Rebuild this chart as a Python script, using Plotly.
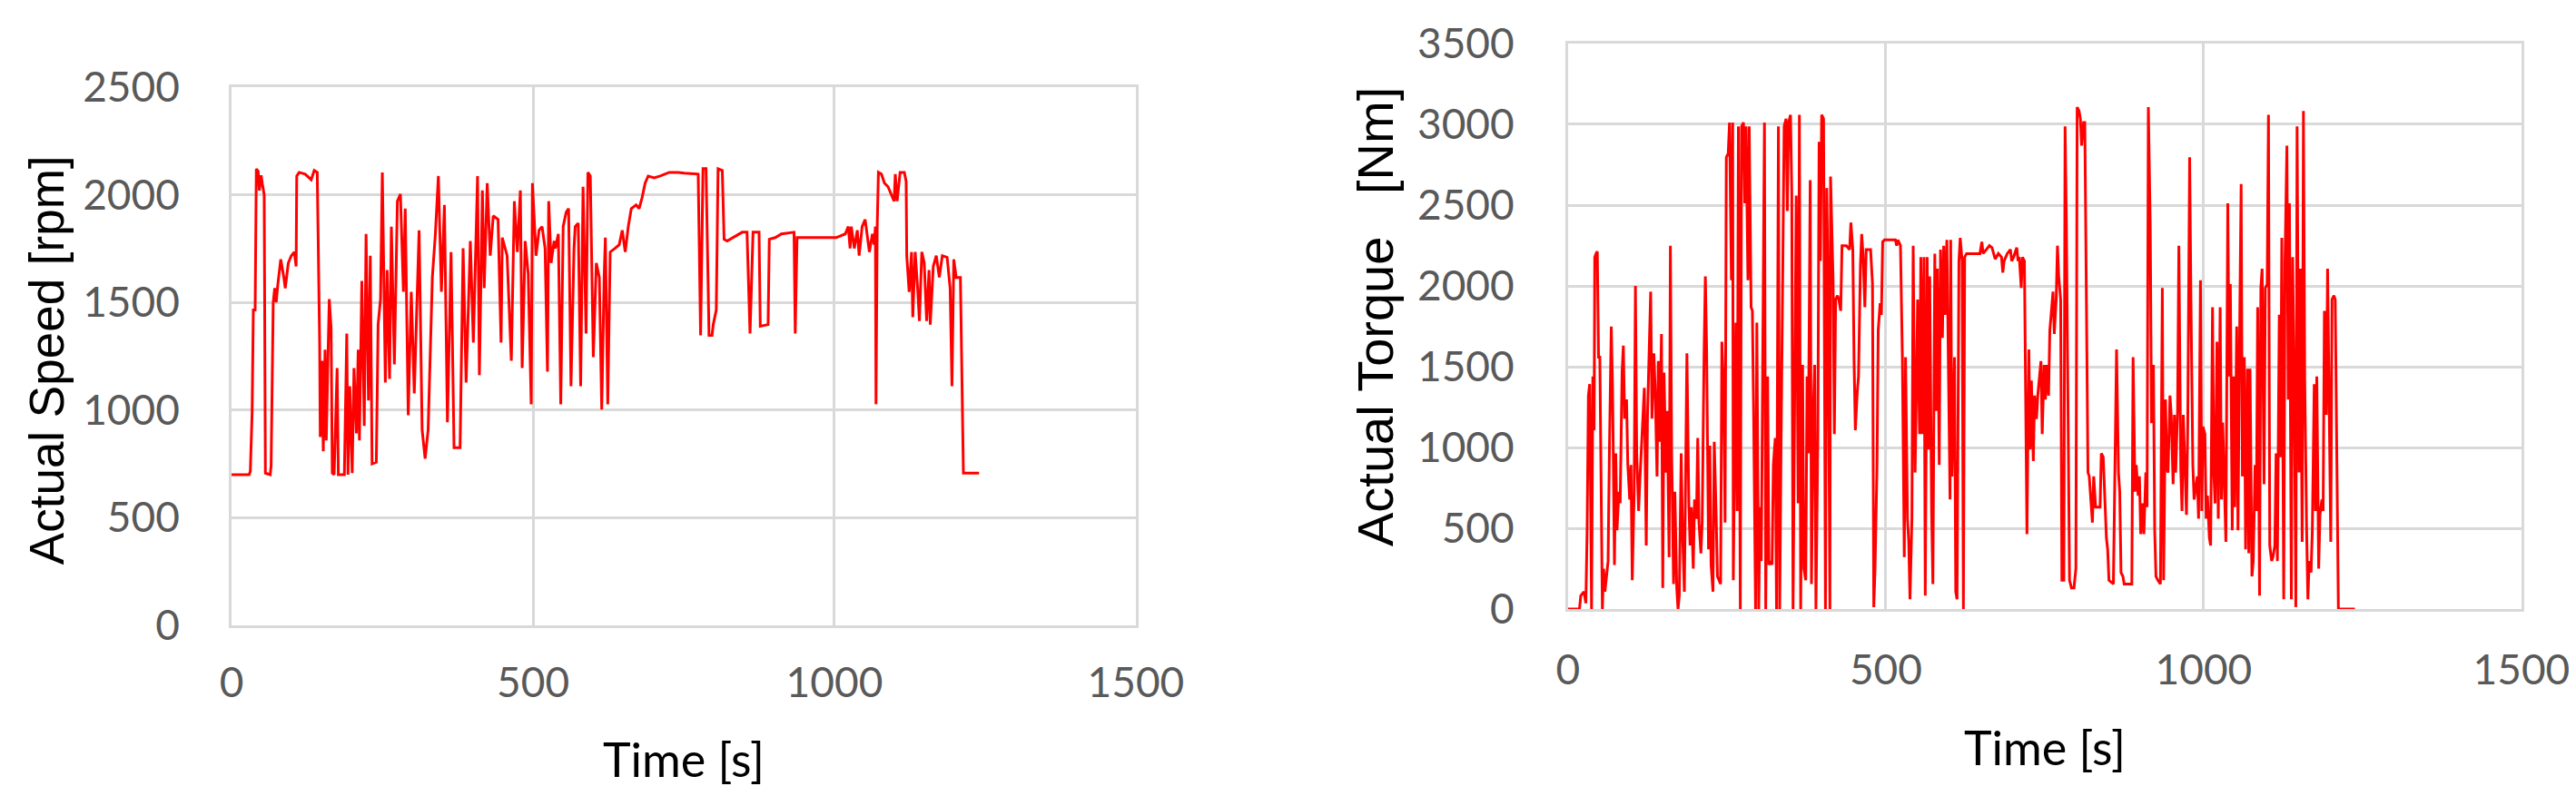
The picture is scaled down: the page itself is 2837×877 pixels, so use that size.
import plotly.graph_objects as go

# Speed trace (time in s, speed in rpm)
speed_time = [
    0, 29, 31, 34, 36, 39, 41, 44, 46, 49,
    51, 54, 56, 64, 65.5, 69, 71.5, 74, 76.5, 81.5,
    86.6, 89, 94, 99, 104, 107, 108, 112, 122, 132,
    137, 142, 146, 147, 150, 152, 155, 157, 160, 162,
    165, 167, 170, 175, 177, 187, 191, 193, 196, 200,
    203, 207, 210, 212, 216, 220, 223, 227, 230, 233,
    240, 243, 247, 250, 255, 258, 262, 265, 270, 275,
    280, 285, 288, 293, 298, 303, 311, 316, 321, 326,
    333, 338, 343, 348, 353, 358, 364, 369, 379, 384,
    389, 396, 401, 408, 411, 416, 419, 424, 429, 434,
    442, 447, 449, 457, 464, 469, 474, 479, 482, 487,
    492, 497, 499, 505, 510, 515, 520, 524, 526, 530,
    535, 537, 542, 546, 550, 555, 559, 563, 568, 570,
    575, 579, 583, 588, 591, 595, 600, 605, 610, 614,
    618, 620, 624, 628, 636, 643, 648, 653, 658, 663,
    671, 676, 681, 686, 691, 701, 711, 726, 741, 751,
    774, 778, 782, 787, 792, 797, 799, 804, 807, 814,
    817, 822, 847, 855, 860, 865, 875, 877, 890, 892,
    902, 912, 933, 935, 938, 953, 978, 1003, 1018, 1023,
    1026, 1028, 1033, 1038, 1041, 1046, 1051, 1056, 1058, 1063,
    1066, 1068, 1069, 1071, 1073, 1078, 1083, 1089, 1094, 1099,
    1101, 1104, 1109, 1116, 1119, 1120, 1124, 1128, 1130, 1134,
    1138, 1141, 1145, 1149, 1153, 1157, 1159, 1164, 1169, 1174,
    1179, 1187, 1192, 1195, 1198, 1202, 1209, 1214, 1240,
]
speed_rpm = [
    700, 700, 715, 990, 1465, 1465, 2120, 2110, 2020, 2090,
    2050, 2000, 707, 700, 740, 1500, 1566, 1500, 1580, 1700,
    1616, 1566, 1683, 1717, 1734, 1667, 2087, 2104, 2096, 2070,
    2113, 2104, 1313, 875, 1229, 808, 1280, 859, 1263, 1515,
    1380, 707, 700, 1195, 700, 700, 1355, 700, 1111, 707,
    1195, 892, 1280, 859, 1600, 926, 1818, 1044, 1717, 750,
    758, 1397, 1515, 2104, 1128, 1650, 1145, 1852, 1212, 1970,
    2003, 1549, 1936, 976, 1549, 1077, 1835, 909, 774, 909,
    1616, 1818, 2087, 1549, 1953, 943, 1734, 825, 825, 1751,
    1128, 1785, 1313, 2087, 1162, 2020, 1566, 2054, 1717, 1902,
    1885, 1313, 1801, 1717, 1229, 1970, 1734, 2020, 1195, 1785,
    1633, 1027, 2054, 1717, 1835, 1852, 1751, 1178, 1970, 1683,
    1785, 1751, 1818, 1027, 1852, 1919, 1936, 1111, 1751, 1852,
    1868, 1111, 2037, 1355, 2104, 2087, 1246, 1683, 1616, 1002,
    1616, 1801, 1027, 1734, 1751, 1768, 1835, 1734, 1852, 1936,
    1953, 1936, 1987, 2054, 2087, 2079, 2087, 2104, 2104, 2100,
    2096, 1347, 2121, 2121, 1347, 1347, 1397, 1465, 2121, 2113,
    1793, 1785, 1826, 1826, 1355, 1826, 1826, 1389, 1397, 1793,
    1801, 1818, 1826, 1355, 1801, 1801, 1801, 1801, 1818, 1852,
    1751, 1852, 1751, 1835, 1717, 1852, 1885, 1785, 1734, 1818,
    1768, 1852, 1027, 1852, 2104, 2096, 2054, 2037, 2003, 1970,
    2096, 1970, 2104, 2104, 2062, 1717, 1549, 1734, 1431, 1734,
    1566, 1414, 1734, 1683, 1414, 1650, 1397, 1667, 1717, 1616,
    1717, 1709, 1566, 1111, 1700, 1616, 1616, 707, 707,
]

# Torque trace (time in s, torque in Nm)
torque_time = [
    0, 18, 20, 25, 28, 30, 32, 34, 37, 39,
    41, 42, 44, 46, 48, 50, 54, 56, 58, 61,
    63, 65, 68, 70, 73, 75, 77, 80, 82, 85,
    87, 89, 92, 94, 97, 99, 101, 104, 106, 108,
    111, 113, 116, 118, 120, 123, 125, 130, 132, 135,
    137, 140, 142, 144, 147, 149, 151, 154, 156, 159,
    161, 163, 166, 168, 171, 173, 175, 178, 180, 183,
    187, 190, 192, 194, 197, 199, 202, 204, 206, 209,
    211, 214, 216, 218, 221, 223, 225, 228, 230, 233,
    235, 240, 242, 245, 247, 249, 252, 254, 257, 259,
    260, 264, 266, 268, 271, 273, 276, 278, 280, 283,
    285, 288, 290, 292, 295, 297, 300, 302, 304, 307,
    309, 311, 314, 316, 319, 321, 323, 326, 328, 331,
    333, 335, 338, 340, 343, 345, 347, 350, 352, 354,
    357, 359, 362, 364, 366, 369, 371, 374, 376, 378,
    381, 383, 386, 388, 390, 393, 395, 397, 399, 402,
    405, 407, 409, 412, 413, 417, 419, 421, 424, 426,
    429, 431, 438, 443, 445, 448, 450, 452, 455, 457,
    460, 462, 464, 467, 469, 476, 479, 481, 483, 486,
    488, 491, 493, 495, 498, 515, 517, 519, 523, 526,
    529, 531, 534, 536, 538, 541, 543, 546, 548, 550,
    553, 555, 557, 560, 562, 565, 567, 569, 572, 574,
    577, 579, 581, 584, 586, 589, 591, 593, 596, 598,
    601, 602, 604, 608, 610, 612, 615, 617, 620, 622,
    624, 627, 648, 651, 653, 663, 667, 672, 677, 682,
    684, 686, 691, 696, 698, 701, 706, 708, 710, 713,
    715, 718, 720, 722, 725, 727, 729, 732, 734, 737,
    739, 741, 744, 746, 749, 751, 753, 756, 758, 761,
    763, 765, 768, 770, 772, 775, 777, 780, 782, 784,
    787, 789, 792, 796, 799, 801, 804, 806, 808, 811,
    813, 815, 818, 820, 823, 825, 827, 830, 837, 839,
    842, 844, 847, 849, 851, 858, 861, 863, 866, 868,
    870, 873, 875, 887, 889, 892, 894, 897, 899, 901,
    904, 906, 909, 911, 913, 916, 918, 921, 923, 925,
    928, 932, 935, 937, 940, 942, 944, 947, 949, 952,
    954, 956, 959, 961, 964, 966, 968, 971, 973, 975,
    978, 980, 983, 985, 987, 990, 992, 995, 997, 999,
    1002, 1004, 1006, 1009, 1011, 1014, 1016, 1018, 1021, 1023,
    1026, 1028, 1030, 1033, 1035, 1038, 1040, 1042, 1045, 1047,
    1049, 1052, 1054, 1057, 1059, 1061, 1064, 1066, 1069, 1071,
    1073, 1076, 1078, 1081, 1083, 1085, 1088, 1090, 1092, 1095,
    1097, 1100, 1102, 1104, 1107, 1109, 1112, 1114, 1116, 1119,
    1121, 1123, 1126, 1128, 1131, 1133, 1135, 1138, 1140, 1143,
    1145, 1147, 1150, 1152, 1155, 1157, 1159, 1162, 1164, 1166,
    1169, 1171, 1174, 1176, 1178, 1181, 1183, 1186, 1188, 1190,
    1193, 1195, 1198, 1200, 1202, 1205, 1207, 1209, 1212, 1238,
]
torque_nm = [
    0, 0, 83, 107, 36, 488, 1321, 1392, 0, 1440,
    1107, 2178, 2200, 2213, 1559, 1559, 0, 250, 107, 202,
    297, 964, 1749, 1369, 273, 964, 488, 726, 655, 1464,
    1630, 1178, 1297, 892, 678, 892, 178, 726, 2000, 964,
    607, 797, 1059, 1226, 1369, 393, 1202, 1964, 1178, 1583,
    1369, 821, 1535, 1035, 1702, 131, 1464, 845, 1226, 321,
    2249, 964, 155, 726, 131, 0, 83, 964, 488, 107,
    1583, 654, 393, 631, 250, 678, 559, 1059, 535, 345,
    535, 1583, 2059, 1607, 369, 1011, 274, 107, 1035, 583,
    202, 155, 1654, 1321, 535, 2796, 2820, 3011, 2035, 3011,
    178, 1773, 607, 2987, 0, 2987, 3011, 2511, 2987, 2035,
    2987, 1868, 1845, 1202, 0, 1773, 0, 631, 297, 1916,
    3011, 0, 1440, 274, 297, 274, 892, 1059, 0, 2987,
    0, 964, 2440, 2987, 3035, 2463, 3011, 3059, 2582, 0,
    1559, 2559, 654, 3059, 0, 1511, 250, 178, 1440, 964,
    2654, 155, 1250, 1511, 0, 1059, 2892, 2154, 3059, 3035,
    0, 2606, 2035, 0, 2677, 2035, 1083, 1916, 1940, 1916,
    1845, 2249, 2249, 2225, 2392, 2225, 1535, 1107, 1345, 1440,
    2130, 2321, 2200, 1868, 2225, 2225, 2011, 12, 250, 869,
    1725, 1892, 1820, 2273, 2285, 2285, 2249, 2285, 2249, 1559,
    321, 1559, 559, 416, 60, 559, 2249, 845, 1321, 1916,
    1083, 2178, 1083, 2178, 83, 2178, 988, 2059, 607, 155,
    2200, 1226, 2106, 892, 2225, 1678, 2249, 1821, 2285, 1559,
    678, 2285, 821, 1559, 107, 60, 2154, 2297, 2154, 0,
    2178, 2200, 2200, 2273, 2200, 2249, 2237, 2166, 2200, 2178,
    2082, 2154, 2200, 2225, 2154, 2178, 2237, 2154, 2178, 1987,
    2178, 2154, 1440, 464, 1607, 988, 1414, 916, 1321, 1176,
    1321, 1414, 1535, 1083, 1511, 1297, 1511, 1321, 1725, 1868,
    1964, 1702, 1916, 2249, 2059, 1916, 178, 178, 2987, 2392,
    964, 178, 131, 131, 250, 3106, 3083, 3035, 2868, 3011,
    3011, 1916, 845, 821, 607, 535, 821, 631, 631, 964,
    940, 726, 440, 369, 178, 155, 964, 1607, 845, 726,
    226, 202, 155, 155, 1559, 726, 892, 702, 821, 464,
    654, 464, 845, 631, 3106, 2368, 1150, 1511, 488, 202,
    178, 155, 1987, 178, 1297, 869, 845, 1321, 1202, 773,
    1202, 845, 1226, 2249, 869, 607, 1202, 845, 583, 1150,
    2796, 1916, 892, 678, 726, 821, 559, 2035, 607, 1128,
    1083, 559, 702, 440, 393, 1868, 845, 654, 1654, 559,
    1868, 678, 1154, 678, 416, 2511, 1440, 2011, 488, 1440,
    631, 1749, 488, 1868, 2630, 821, 1559, 369, 1488, 345,
    1488, 202, 297, 892, 607, 1868, 83, 1987, 2106, 773,
    1987, 2011, 3059, 393, 297, 321, 393, 964, 297, 1821,
    940, 2297, 60, 2154, 2868, 1297, 2511, 60, 2178, 1202,
    12, 2987, 845, 2106, 416, 3083, 1440, 488, 60, 297,
    226, 488, 1392, 607, 1440, 250, 583, 678, 607, 1845,
    1202, 2106, 1178, 416, 1916, 1940, 1916, 1202, 0, 0,
]

line_red = dict(color="#ff0000", width=3)
grid_grey = "#d9d9d9"
tick_font = dict(family="Lato", size=46, color="#595959")
title_font = dict(family="Liberation Sans", size=53, color="#000000")
torque_title_font = dict(family="Liberation Sans", size=56, color="#000000")
xtitle_font = dict(family="Lato", size=52, color="#000000")

fig = go.Figure()
fig.add_trace(go.Scatter(x=speed_time, y=speed_rpm, mode="lines", line=line_red,
                         xaxis="x", yaxis="y", showlegend=False))
fig.add_trace(go.Scatter(x=torque_time, y=torque_nm, mode="lines", line=line_red,
                         xaxis="x2", yaxis="y2", showlegend=False))

axis_style = dict(showgrid=True, gridcolor=grid_grey, gridwidth=3,
                  showline=True, linecolor=grid_grey, linewidth=3, mirror=True,
                  zeroline=False, ticks="", tickfont=tick_font, layer="below traces",
                  dtick=500, automargin=False)

fig.update_layout(
    width=2837, height=877,
    margin=dict(l=0, r=0, t=0, b=0),
    paper_bgcolor="white", plot_bgcolor="white",
    xaxis=dict(domain=[0.0871, 0.4381], range=[0, 1500], anchor="y",
               ticklabelstandoff=21, **axis_style),
    yaxis=dict(domain=[0.2235, 0.8997], range=[0, 2500], anchor="x",
               ticklabelstandoff=45, **axis_style),
    xaxis2=dict(domain=[0.6059, 0.9760], range=[0, 1500], anchor="y2",
                ticklabelstandoff=25, **axis_style),
    yaxis2=dict(domain=[0.2440, 0.9544], range=[0, 3500], anchor="x2",
                ticklabelstandoff=47, **axis_style),
)

# axis titles as annotations so they sit where the original has them
fig.add_annotation(text="Actual Speed [rpm]", x=0.0152, y=0.5564, xref="paper", yref="paper",
                   xanchor="center", yanchor="middle", textangle=-90, showarrow=False,
                   font=title_font)
fig.add_annotation(text="Actual Torque   [Nm]", x=0.5308, y=0.611, xref="paper", yref="paper",
                   xanchor="center", yanchor="middle", textangle=-90, showarrow=False,
                   font=torque_title_font)
fig.add_annotation(text="Time [s]", x=0.2626, y=0.056, xref="paper", yref="paper",
                   xanchor="center", yanchor="middle", showarrow=False, font=xtitle_font)
fig.add_annotation(text="Time [s]", x=0.791, y=0.071, xref="paper", yref="paper",
                   xanchor="center", yanchor="middle", showarrow=False, font=xtitle_font)

fig.write_html("out.html")
